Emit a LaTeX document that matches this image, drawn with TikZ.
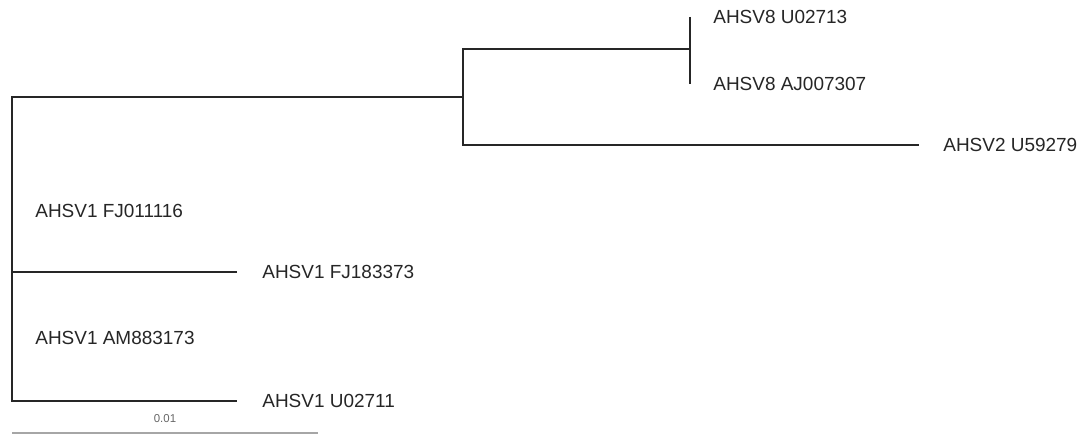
\documentclass[tikz,border=0pt]{standalone}
\usepackage{fontspec}
\setmainfont{Liberation Sans}
\usetikzlibrary{positioning, calc}
\tikzset{
  leaf/.style={anchor=west, inner sep=0pt, font=\fontsize{10.8}{13}\selectfont, text=black!85},
  branch/.style={line width=1.1pt, draw=black!85},
  scalebar/.style={line width=1pt, draw=black!35},
  scalelabel/.style={inner sep=0pt, font=\fontsize{6.5}{8}\selectfont, text=black!60},
}

\begin{document}
\begin{tikzpicture}[x=0.02cm, y=-0.02cm]
    \useasboundingbox (0,0) rectangle (1079,438);
    % inner nodes
    \coordinate (root) at (12,97);
    \coordinate (rootend) at (12,401);
    \coordinate (n1) at (463,97);
    \coordinate (n2) at (690,49);
    % tips
    \coordinate (t8a) at (690,17);
    \coordinate (t8b) at (690,84);
    \coordinate (t2) at (919,145);
    \coordinate (t1a) at (12,211);
    \coordinate (t1b) at (237,272);
    \coordinate (t1c) at (12,338);
    \coordinate (t1d) at (237,401);
    % branches
    \draw[branch] (n1) -- (root) -- (rootend) -- (t1d);
    \draw[branch] (t1b) -- (t1b -| root);
    \draw[branch] (n1) |- (n2);
    \draw[branch] (n1) |- (t2);
    \draw[branch] (t8a) -- (t8b);
    % labels
    \node[leaf, right=0.46cm of t8a] (l8a) {AHSV8 U02713};
    \node[leaf, right=0.46cm of t8b] (l8b) {AHSV8 AJ007307};
    \node[leaf, right=0.48cm of t2] (l2) {AHSV2 U59279};
    \node[leaf, right=0.46cm of t1a] (l1a) {AHSV1 FJ011116};
    \node[leaf, right=0.50cm of t1b] (l1b) {AHSV1 FJ183373};
    \node[leaf, right=0.46cm of t1c] (l1c) {AHSV1 AM883173};
    \node[leaf, right=0.50cm of t1d] (l1d) {AHSV1 U02711};
    % scale bar
    \coordinate (sb0) at (12,433);
    \coordinate (sb1) at (318,433);
    \draw[scalebar] (sb0) -- (sb1);
    \node[scalelabel, above=0.2cm of $(sb0)!0.5!(sb1)$] (sbl) {0.01};
\end{tikzpicture}
\end{document}
